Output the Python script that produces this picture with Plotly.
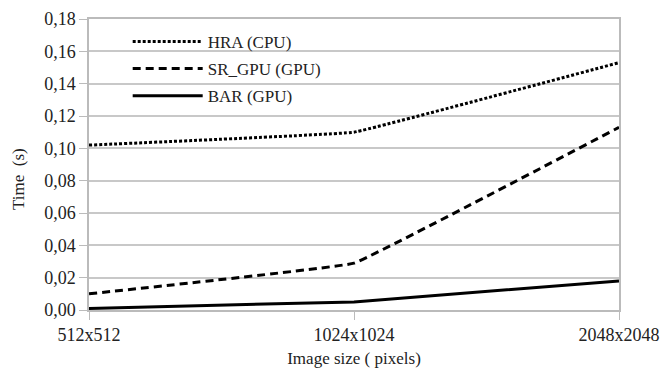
import plotly.graph_objects as go

categories = ["512x512", "1024x1024", "2048x2048"]
hra_cpu = [0.102, 0.110, 0.153]
sr_gpu = [0.010, 0.029, 0.113]
bar_gpu = [0.001, 0.005, 0.018]
y_ticks = [0, 0.02, 0.04, 0.06, 0.08, 0.10, 0.12, 0.14, 0.16, 0.18]

FONT = "Liberation Serif"
TXT = "#222222"

fig = go.Figure()
series = [("HRA (CPU)", hra_cpu, "3px,2px"), ("SR_GPU (GPU)", sr_gpu, "8px,5px"), ("BAR (GPU)", bar_gpu, "solid")]
for i, (name, vals, dash) in enumerate(series):
    fig.add_trace(go.Scatter(
        x=categories, y=vals, name=name, mode="lines", legendgroup=f"g{i}",
        line=dict(color="black", width=3, dash=dash, shape="spline", smoothing=0.15),
    ))

# white patch behind the legend hiding the gridlines (as in the reference)
fig.add_shape(type="rect", xref="paper", yref="paper",
              x0=0.026, x1=0.489, y0=0.67, y1=0.969,
              fillcolor="white", line=dict(width=0), layer="between")

# y-axis title
fig.add_annotation(text="Time\u00a0\u00a0(s)", xref="paper", yref="paper",
                   x=-0.134, y=0.45, textangle=-90, showarrow=False,
                   xanchor="center", yanchor="middle",
                   font=dict(family=FONT, size=17, color=TXT))

fig.update_layout(
    width=660, height=369,
    margin=dict(l=89, r=41, t=19, b=59),
    paper_bgcolor="white", plot_bgcolor="white",
    separators=",.",
    font=dict(family=FONT, size=16, color=TXT),
    showlegend=True,
    legend=dict(
        x=0.073, y=0.983, xanchor="left", yanchor="top",
        bgcolor="rgba(0,0,0,0)", font=dict(family=FONT, size=17, color=TXT),
        itemwidth=70, tracegroupgap=2,
    ),
    xaxis=dict(
        type="category", range=[0, 2], showgrid=False, automargin=False,
        showline=True, linecolor="#bbbbbb", linewidth=1.5, mirror=True,
        ticks="outside", ticklen=8, tickcolor="#bbbbbb",
        title=dict(text="Image size ( pixels)", standoff=8, font=dict(family=FONT, size=17, color=TXT)),
        tickfont=dict(family=FONT, size=18, color=TXT),
    ),
    yaxis=dict(
        range=[0, 0.18], tickvals=y_ticks, tickformat=".2f", automargin=False,
        showgrid=True, gridcolor="#c8c8c8", gridwidth=1.5,
        showline=True, linecolor="#bbbbbb", linewidth=1.5, mirror=True,
        ticks="outside", ticklen=8, tickcolor="#bbbbbb",
        zeroline=False,
        tickfont=dict(family=FONT, size=18, color=TXT),
    ),
)

fig.write_html("out.html", config={"displayModeBar": False},
               post_script="document.body.style.margin='0';")
